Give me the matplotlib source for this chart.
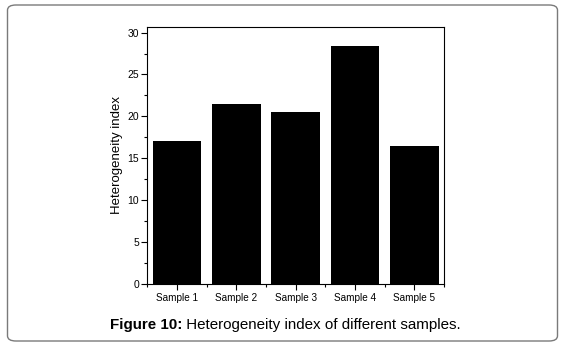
import matplotlib.pyplot as plt
from matplotlib.patches import FancyBboxPatch
from matplotlib.ticker import MultipleLocator

# data
samples = ["Sample 1", "Sample 2", "Sample 3", "Sample 4", "Sample 5"]
het_index = [17.1, 21.5, 20.5, 28.4, 16.5]
y_ticks = [0, 5, 10, 15, 20, 25, 30]

plt.rcParams['font.family'] = ['Liberation Sans', 'DejaVu Sans']

fig = plt.figure(figsize=(5.65, 3.45), dpi=100)

# rounded frame around the whole figure
frame = FancyBboxPatch((7.5 / 565, 4.0 / 345), 550 / 565, 336 / 345,
                       boxstyle="round,pad=0,rounding_size=0.015",
                       transform=fig.transFigure, fill=False,
                       edgecolor='#7a7a7a', linewidth=1.0)
fig.patches.append(frame)

ax = fig.add_axes([0.2607, 0.176, 0.5251, 0.7467])
x = range(len(samples))
ax.bar(x, het_index, width=0.82, color='black')

ax.set_xlim(-0.5, 4.5)
ax.set_ylim(0, 30.7)
ax.set_xticks(list(x))
ax.set_xticklabels(samples, fontsize=7.2)
ax.set_yticks(y_ticks)
ax.set_yticklabels([str(t) for t in y_ticks], fontsize=7.5)
ax.yaxis.set_minor_locator(MultipleLocator(2.5))
ax.set_xticks([i + 0.5 for i in range(-1, len(samples))], minor=True)
ax.tick_params(axis='both', which='major', direction='out', length=4, width=0.8, pad=2)
ax.tick_params(axis='both', which='minor', direction='out', length=2, width=0.8)
ax.set_ylabel("Heterogeneity index", fontsize=9.5, labelpad=3)
for s in ax.spines.values():
    s.set_linewidth(0.8)

# caption: bold label + normal text, centred as a whole
cap_y = 1 - 325 / 345
t1 = fig.text(0, cap_y, "Figure 10:", fontsize=10.9, fontweight='bold', ha='left', va='center')
t2 = fig.text(0, cap_y, " Heterogeneity index of different samples.", fontsize=10.9, ha='left', va='center')
fig.canvas.draw()
w1 = t1.get_window_extent().width
w2 = t2.get_window_extent().width
start = (fig.bbox.width - (w1 + w2)) / 2 + 3
t1.set_x(start / fig.bbox.width)
t2.set_x((start + w1) / fig.bbox.width)

fig.savefig("out.png", dpi=100)
